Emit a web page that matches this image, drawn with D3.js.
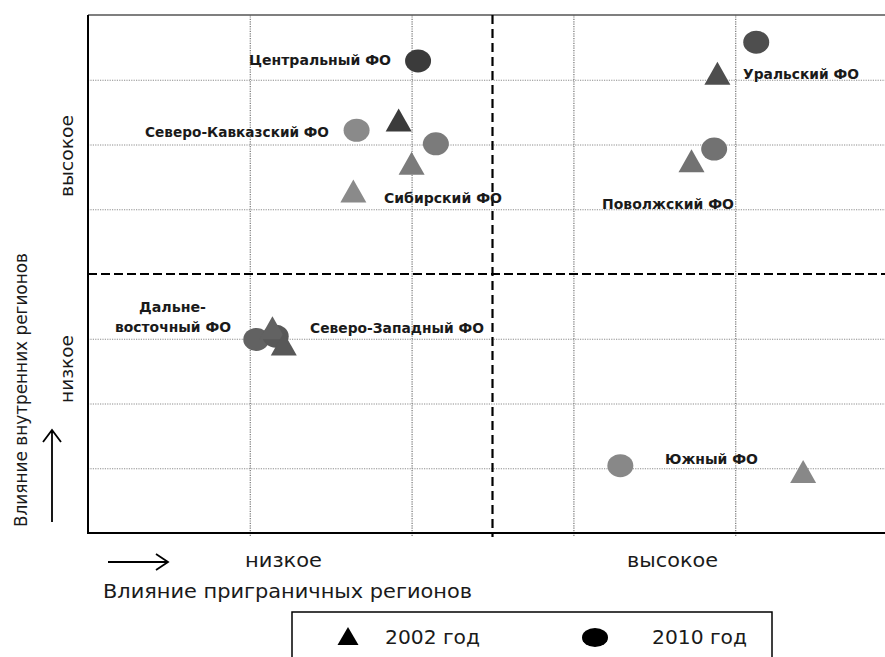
<!DOCTYPE html>
<html>
<head>
<meta charset="utf-8">
<script src="https://cdn.jsdelivr.net/npm/d3@7"></script>
<style>
  body { margin: 0; background: #fff; }
  svg { display: block; }
  .grid line { stroke: #808080; stroke-dasharray: 1.2,1.2; }
  .grid path { display: none; }
  .lbl { font-family: "DejaVu Sans", sans-serif; font-weight: bold; font-size: 14.5px; fill: #1a1a1a; }
  .ax { font-family: "DejaVu Sans", sans-serif; fill: #1a1a1a; }
</style>
</head>
<body>
<div id="chart"></div>
<script>
// regions and their positions (influence of border regions x, influence of inner regions y)
const regions = ["Центральный ФО", "Северо-Кавказский ФО", "Сибирский ФО", "Уральский ФО",
                 "Поволжский ФО", "Южный ФО", "Дальневосточный ФО", "Северо-Западный ФО"];
const x2002 = [1.92, 1.64, 2.00, 3.89, 3.73, 4.42, 1.14, 1.21];
const y2002 = [6.38, 5.28, 5.71, 7.10, 5.75, 0.95, 3.17, 2.92];
const x2010 = [2.04, 1.66, 2.15, 4.13, 3.87, 3.29, 1.04, 1.16];
const y2010 = [7.29, 6.22, 6.01, 7.58, 5.93, 1.04, 2.99, 3.04];
const xGrid = [1, 2, 3, 4];
const yGrid = [1, 2, 3, 5, 6, 7];
const xSplit = 2.5, ySplit = 4;
const xLevels = ["низкое", "высокое"];
const yLevels = ["низкое", "высокое"];
const years = ["2002 год", "2010 год"];

// shade of each region (styling only)
const shade = d3.scaleOrdinal()
    .domain(regions)
    .range(["#3b3b3b", "#8a8a8a", "#7b7b7b", "#4e4e4e", "#727272", "#888888", "#626262", "#585858"]);

const W = 885, H = 657;
const pL = 88, pT = 15, pR = 897, pB = 533;

const x = d3.scaleLinear().domain([0, 5]).range([pL, pR]);
const y = d3.scaleLinear().domain([0, 8]).range([pB, pT]);

const svg = d3.select("#chart").append("svg")
    .attr("width", W)
    .attr("height", H);

// grid
svg.append("g")
    .attr("class", "grid")
    .attr("transform", `translate(0, ${pB})`)
    .call(d3.axisBottom(x).tickValues(xGrid).tickSize(-(pB - pT)).tickSizeOuter(0).tickFormat(""))
    .selectAll("line").attr("stroke-width", 1.3).attr("y1", 3);

svg.append("g")
    .attr("class", "grid")
    .attr("transform", `translate(${pL}, 0)`)
    .call(d3.axisLeft(y).tickValues(yGrid).tickSize(-(pR - pL)).tickSizeOuter(0).tickFormat(""))
    .selectAll("line").attr("stroke", "#9a9a9a").attr("stroke-width", 0.9);

// quadrant split
svg.append("line")
    .attr("x1", x(xSplit)).attr("x2", x(xSplit))
    .attr("y1", pT).attr("y2", pB + 4)
    .attr("stroke", "#000").attr("stroke-width", 2.2).attr("stroke-dasharray", "9,5");
svg.append("line")
    .attr("x1", pL).attr("x2", pR)
    .attr("y1", y(ySplit)).attr("y2", y(ySplit))
    .attr("stroke", "#000").attr("stroke-width", 2.2).attr("stroke-dasharray", "9,4");

// frame
svg.append("line").attr("x1", pL).attr("x2", pR).attr("y1", pT).attr("y2", pT)
    .attr("stroke", "#000").attr("stroke-width", 1.2);
svg.append("line").attr("x1", pL).attr("x2", pL).attr("y1", pT).attr("y2", pB + 1)
    .attr("stroke", "#000").attr("stroke-width", 2);
svg.append("line").attr("x1", pL - 1).attr("x2", pR).attr("y1", pB).attr("y2", pB)
    .attr("stroke", "#000").attr("stroke-width", 2);

// markers
const tri = (cx, cy, w, h) => `M${cx},${cy - h / 2}L${cx + w / 2},${cy + h / 2}L${cx - w / 2},${cy + h / 2}Z`;

svg.append("g").selectAll("ellipse")
    .data(regions)
    .join("ellipse")
    .attr("cx", (d, i) => x(x2010[i]))
    .attr("cy", (d, i) => y(y2010[i]))
    .attr("rx", 13)
    .attr("ry", 11.5)
    .attr("fill", d => shade(d));

svg.append("g").selectAll("path")
    .data(regions)
    .join("path")
    .attr("d", (d, i) => tri(x(x2002[i]), y(y2002[i]), 26, 23))
    .attr("fill", d => shade(d));

// region labels
const labels = [
  {t: "Центральный ФО", x: 249, y: 65, w: 142},
  {t: "Северо-Кавказский ФО", x: 145, y: 137, w: 184},
  {t: "Сибирский ФО", x: 384, y: 203, w: 118},
  {t: "Уральский ФО", x: 743, y: 79, w: 116},
  {t: "Поволжский ФО", x: 602, y: 209, w: 132},
  {t: "Южный ФО", x: 665, y: 464, w: 93},
  {t: "Дальне-", x: 139, y: 312, w: 67},
  {t: "восточный ФО", x: 115, y: 332, w: 116},
  {t: "Северо-Западный ФО", x: 310, y: 333, w: 174}
];
svg.append("g").selectAll("text")
    .data(labels)
    .join("text")
    .attr("class", "lbl")
    .attr("x", d => d.x)
    .attr("y", d => d.y)
    .attr("textLength", d => d.w)
    .attr("lengthAdjust", "spacingAndGlyphs")
    .text(d => d.t);

// axis texts
const axText = (t, px, py, size, len, rot) => {
  const el = svg.append("text")
      .attr("class", "ax")
      .attr("font-size", size)
      .attr("textLength", len)
      .attr("lengthAdjust", "spacingAndGlyphs")
      .text(t);
  if (rot) el.attr("transform", `translate(${px},${py}) rotate(-90)`);
  else el.attr("x", px).attr("y", py);
};
axText(xLevels[0], 245, 567, 19, 77, false);
axText(xLevels[1], 627, 567, 19, 91, false);
axText("Влияние приграничных регионов", 103, 598, 19, 369, false);
axText(yLevels[0], 73, 403, 18, 68, true);
axText(yLevels[1], 73, 197, 18, 82, true);
axText("Влияние внутренних регионов", 27, 527, 17, 274, true);

// arrows
const arrow = svg.append("g").attr("stroke", "#000").attr("stroke-width", 1.8).attr("fill", "none");
arrow.append("path").attr("d", "M52,522V430M43,442L52,430L61,442");
arrow.append("path").attr("d", "M108,562H168M156,554L168,562L156,570");

// legend
svg.append("rect")
    .attr("x", 292).attr("y", 612)
    .attr("width", 480).attr("height", 60)
    .attr("fill", "#fff").attr("stroke", "#000").attr("stroke-width", 1.5);
svg.append("path").attr("d", tri(348, 636, 21, 18)).attr("fill", "#000");
svg.append("ellipse").attr("cx", 595).attr("cy", 637.5).attr("rx", 13).attr("ry", 9.5).attr("fill", "#000");
axText(years[0], 385, 644, 20, 95, false);
axText(years[1], 652, 644, 20, 95, false);
</script>
</body>
</html>
